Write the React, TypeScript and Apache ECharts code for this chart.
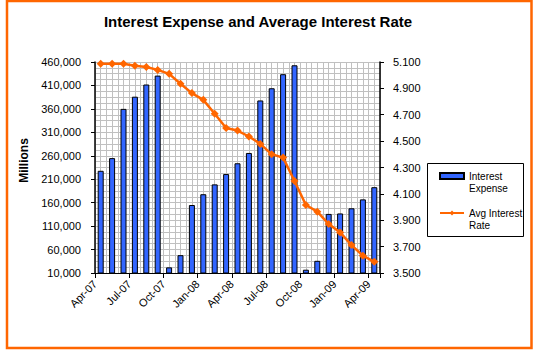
import React, { useEffect, useRef } from "react";
import * as echarts from "echarts";

const categories = [
  "Apr-07", "May-07", "Jun-07", "Jul-07", "Aug-07", "Sep-07", "Oct-07", "Nov-07", "Dec-07",
  "Jan-08", "Feb-08", "Mar-08", "Apr-08", "May-08", "Jun-08", "Jul-08", "Aug-08", "Sep-08",
  "Oct-08", "Nov-08", "Dec-08", "Jan-09", "Feb-09", "Mar-09", "Apr-09",
];
const tickLabels = ["Apr-07", "Jul-07", "Oct-07", "Jan-08", "Apr-08", "Jul-08", "Oct-08", "Jan-09", "Apr-09"];
const interestExpense = [
  228000, 255000, 360000, 386000, 412000, 431000, 22000, 48000, 155000,
  178000, 199000, 221000, 244000, 266000, 378000, 404000, 434000, 453000,
  17000, 36000, 136000, 137000, 148000, 167000, 193000,
];
const avgInterestRate = [
  5.087, 5.087, 5.087, 5.072, 5.062, 5.04, 5.01, 4.935, 4.864,
  4.813, 4.707, 4.6, 4.58, 4.535, 4.479, 4.4, 4.375, 4.198,
  4.016, 3.965, 3.871, 3.808, 3.712, 3.631, 3.585,
];
const leftTicks = { min: 10000, max: 460000, interval: 50000 };
const rightTicks = { min: 3.5, max: 5.1, interval: 0.2 };

const FONT = "Liberation Sans, Arial, sans-serif";
const GRID_COLOR = "#c0c0c0";

export default function App() {
  const ref = useRef<HTMLDivElement>(null);
  useEffect(() => {
    if (!ref.current) return;
    const chart = echarts.init(ref.current, undefined, { renderer: "svg" });
    const legendNames: Record<string, string> = {
      "Interest Expense": " \nInterest\nExpense",
      "Avg Interest Rate": " \nAvg Interest\nRate",
    };
    chart.setOption({
      animation: false,
      backgroundColor: "#fff",
      textStyle: { fontFamily: FONT },
      graphic: [
        {
          type: "rect",
          shape: { x: 7, y: 1, width: 524.5, height: 347 },
          style: { fill: "none", stroke: "#FF6600", lineWidth: 2.5 },
          silent: true,
        },
        {
          type: "text",
          x: 258,
          y: 21,
          style: {
            text: "Interest Expense and Average Interest Rate",
            fill: "#000",
            font: `bold 15px ${FONT}`,
            textAlign: "center",
            textVerticalAlign: "middle",
          },
        },
        {
          type: "rect",
          shape: { x: 427.5, y: 163.5, width: 96, height: 73 },
          style: { fill: "none", stroke: "#000", lineWidth: 1 },
          silent: true,
        },
      ],
      grid: { left: 95, right: 160, top: 62, bottom: 77 },
      legend: {
        orient: "vertical",
        left: 439,
        top: 158,
        padding: 0,
        itemGap: 1,
        itemWidth: 24,
        itemHeight: 6,
        formatter: (n: string) => legendNames[n] || n,
        textStyle: { fontSize: 10, color: "#000", lineHeight: 12, fontFamily: FONT },
        data: [
          { name: "Interest Expense", icon: "rect" },
          { name: "Avg Interest Rate" },
        ],
      },
      xAxis: [
        {
          type: "category",
          data: categories,
          boundaryGap: true,
          position: "bottom",
          axisLine: { lineStyle: { color: "#000", width: 1 } },
          axisTick: { show: true, interval: 2, length: 5, lineStyle: { color: "#000" } },
          axisLabel: { show: false },
          splitLine: { show: false },
          z: 5,
        },
        {
          type: "value",
          min: 0,
          max: 25,
          interval: 0.5,
          position: "bottom",
          axisLine: { show: false },
          axisTick: { show: false },
          splitLine: { show: true, lineStyle: { color: GRID_COLOR, width: 1 } },
          axisLabel: {
            rotate: 45,
            margin: 9,
            fontSize: 11,
            color: "#000",
            fontFamily: FONT,
            formatter: (v: number) => (v % 3 === 0 ? tickLabels[v / 3] || "" : ""),
          },
        },
      ],
      yAxis: [
        {
          type: "value",
          position: "left",
          min: leftTicks.min,
          max: leftTicks.max,
          interval: leftTicks.interval,
          name: "Millions",
          nameLocation: "middle",
          nameGap: 57,
          nameRotate: 90,
          nameTextStyle: {
            fontSize: 12,
            fontWeight: "bold",
            color: "#000",
            fontFamily: FONT,
            padding: [0, 0, 0, 14],
          },
          axisLine: { show: true, lineStyle: { color: "#000", width: 1.5 } },
          axisTick: { show: true, length: 4, lineStyle: { color: "#000" } },
          axisLabel: {
            fontSize: 11,
            color: "#000",
            margin: 14,
            fontFamily: FONT,
            formatter: (v: number) => v.toLocaleString("en-US"),
          },
          splitLine: { show: true, lineStyle: { color: GRID_COLOR, width: 1 } },
          minorTick: { show: false, splitNumber: 4 },
          minorSplitLine: { show: true, lineStyle: { color: GRID_COLOR, width: 1 } },
        },
        {
          type: "value",
          position: "right",
          min: rightTicks.min,
          max: rightTicks.max,
          interval: rightTicks.interval,
          axisLine: { show: true, lineStyle: { color: "#000", width: 1.5 } },
          axisTick: { show: true, length: 4, lineStyle: { color: "#000" } },
          axisLabel: {
            fontSize: 11,
            color: "#000",
            margin: 13,
            fontFamily: FONT,
            formatter: (v: number) => v.toFixed(3),
          },
          splitLine: { show: false },
        },
      ],
      series: [
        {
          name: "Interest Expense",
          type: "bar",
          xAxisIndex: 0,
          yAxisIndex: 0,
          data: interestExpense,
          barWidth: 6,
          itemStyle: { color: "#3366FF", borderColor: "#000", borderWidth: 1 },
        },
        {
          name: "Avg Interest Rate",
          type: "line",
          xAxisIndex: 0,
          yAxisIndex: 1,
          data: avgInterestRate,
          color: "#FF6600",
          lineStyle: { color: "#FF6600", width: 2.5 },
          itemStyle: { color: "#FF6600" },
          symbol: "diamond",
          symbolSize: 8,
          showSymbol: true,
          showAllSymbol: true,
          z: 10,
        },
      ],
    });
    return () => chart.dispose();
  }, []);
  return (
    <div
      ref={ref}
      style={{ position: "fixed", left: 0, top: 0, width: 540, height: 350 }}
    />
  );
}
